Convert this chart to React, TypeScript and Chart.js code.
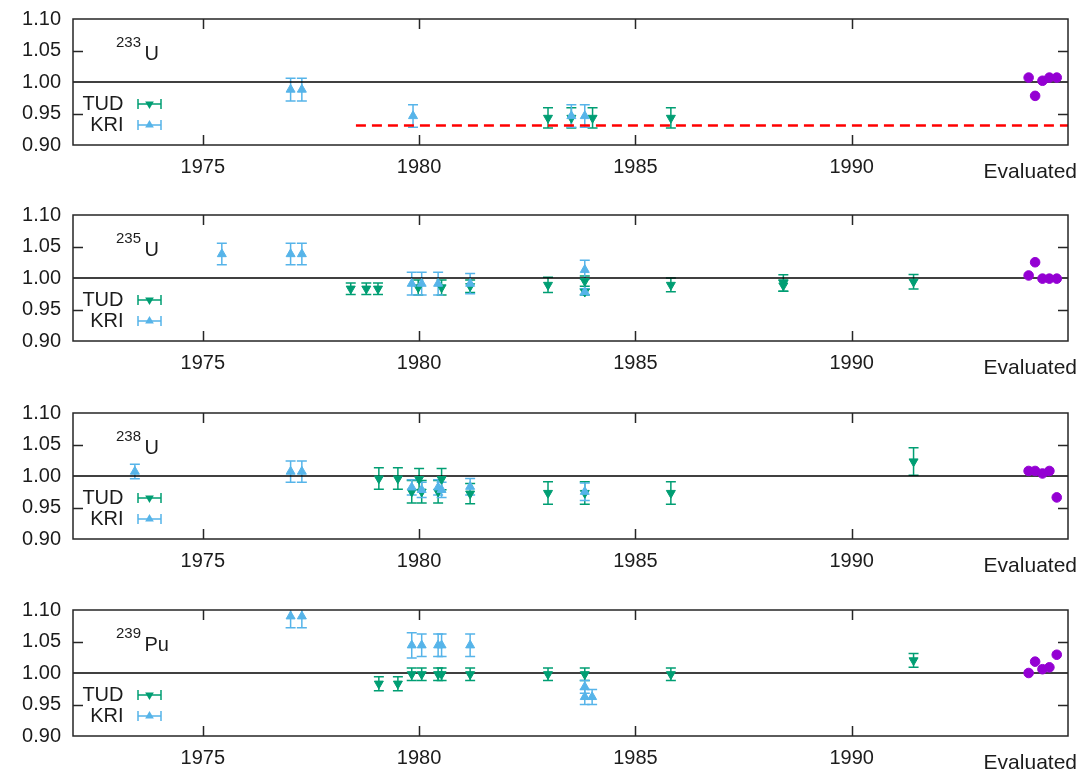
import React, { useEffect, useRef } from 'react';
import { Chart, registerables } from 'chart.js';

Chart.register(...registerables);

// ---- shared axes ----
const xTicks = [1975, 1980, 1985, 1990];
const yTicks = [0.9, 0.95, 1.0, 1.05, 1.1];
const xMin = 1972;
const xMax = 1995;
const evalYears = [1994.09, 1994.24, 1994.41, 1994.57, 1994.74];
const seriesNames = ['TUD', 'KRI'];
const evalLabel = 'Evaluated';

// ---- 233U ----
const u233TudYears = [1982.98, 1983.52, 1984.01, 1985.82];
const u233TudVals = [0.943, 0.943, 0.943, 0.943];
const u233TudErrs = [0.016, 0.016, 0.016, 0.016];
const u233KriYears = [1977.03, 1977.29, 1979.86, 1983.52, 1983.83];
const u233KriVals = [0.988, 0.988, 0.946, 0.946, 0.946];
const u233KriErrs = [0.018, 0.018, 0.018, 0.018, 0.018];
const u233Eval = [1.007, 0.978, 1.002, 1.007, 1.007];
const u233Threshold = 0.931;
const u233ThresholdStart = 1978.54;

// ---- 235U ----
const u235TudYears = [1978.42, 1978.78, 1979.05, 1979.98, 1980.52, 1981.18, 1982.98, 1983.83, 1983.83, 1985.82, 1988.42, 1988.42, 1991.43];
const u235TudVals = [0.983, 0.983, 0.983, 0.985, 0.985, 0.987, 0.989, 0.995, 0.978, 0.989, 0.992, 0.988, 0.994];
const u235TudErrs = [0.009, 0.009, 0.009, 0.012, 0.012, 0.01, 0.012, 0.008, 0.005, 0.011, 0.013, 0.009, 0.0115];
const u235KriYears = [1975.44, 1977.03, 1977.29, 1979.83, 1980.06, 1980.44, 1981.18, 1983.83, 1983.83];
const u235KriVals = [1.038, 1.038, 1.038, 0.991, 0.991, 0.991, 0.991, 1.013, 0.978];
const u235KriErrs = [0.017, 0.017, 0.017, 0.018, 0.018, 0.018, 0.016, 0.015, 0.005];
const u235Eval = [1.004, 1.025, 0.999, 0.999, 0.999];

// ---- 238U ----
const u238TudYears = [1979.07, 1979.51, 1979.83, 1980.0, 1980.06, 1980.44, 1980.52, 1981.18, 1982.98, 1983.83, 1985.82, 1991.43];
const u238TudVals = [0.996, 0.996, 0.975, 0.995, 0.975, 0.975, 0.995, 0.972, 0.973, 0.973, 0.973, 1.023];
const u238TudErrs = [0.017, 0.017, 0.018, 0.017, 0.018, 0.018, 0.017, 0.016, 0.018, 0.018, 0.018, 0.022];
const u238KriYears = [1973.43, 1977.03, 1977.29, 1979.83, 1980.06, 1980.44, 1980.52, 1981.18, 1983.83];
const u238KriVals = [1.007, 1.007, 1.007, 0.982, 0.978, 0.982, 0.978, 0.983, 0.975];
const u238KriErrs = [0.0115, 0.017, 0.017, 0.012, 0.012, 0.012, 0.012, 0.013, 0.014];
const u238Eval = [1.008, 1.008, 1.004, 1.008, 0.966];

// ---- 239Pu ----
const pu239TudYears = [1979.07, 1979.51, 1979.83, 1980.06, 1980.44, 1980.52, 1981.18, 1982.98, 1983.83, 1985.82, 1991.43];
const pu239TudVals = [0.983, 0.983, 0.998, 0.998, 0.998, 0.998, 0.998, 0.998, 0.998, 0.998, 1.02];
const pu239TudErrs = [0.011, 0.011, 0.01, 0.01, 0.01, 0.01, 0.01, 0.01, 0.01, 0.01, 0.011];
const pu239KriYears = [1977.03, 1977.29, 1979.83, 1980.06, 1980.44, 1980.52, 1981.18, 1983.83, 1983.83, 1984.0];
const pu239KriVals = [1.09, 1.09, 1.044, 1.044, 1.044, 1.044, 1.044, 0.978, 0.962, 0.962];
const pu239KriErrs = [0.018, 0.018, 0.02, 0.018, 0.018, 0.018, 0.018, 0.01, 0.012, 0.012];
const pu239Eval = [1.0, 1.018, 1.006, 1.009, 1.029];

const TUD_COLOR = '#009e73';
const KRI_COLOR = '#56b4e9';
const EVAL_COLOR = '#9400d3';
const TEXT_COLOR = '#1c1c1c';
const FONT = '"Liberation Sans", Arial, sans-serif';

const W = 1079;
const H = 196;

function tri(ctx: CanvasRenderingContext2D, x: number, y: number, r: number, rotDeg: number) {
  let rad = (rotDeg * Math.PI) / 180;
  const step = (2 * Math.PI) / 3;
  ctx.beginPath();
  ctx.moveTo(x + Math.sin(rad) * r, y - Math.cos(rad) * r);
  rad += step;
  ctx.lineTo(x + Math.sin(rad) * r, y - Math.cos(rad) * r);
  rad += step;
  ctx.lineTo(x + Math.sin(rad) * r, y - Math.cos(rad) * r);
  ctx.closePath();
  ctx.fill();
}

const decor = {
  id: 'decor',
  beforeDatasetsDraw(chart: any) {
    const { ctx, chartArea: a, scales } = chart;
    const xs = scales.x;
    const ys = scales.y;
    ctx.save();
    ctx.beginPath();
    ctx.rect(a.left, a.top, a.right - a.left, a.bottom - a.top);
    ctx.clip();
    chart.data.datasets.forEach((ds: any) => {
      if (!ds.errors) return;
      ctx.strokeStyle = ds.borderColor;
      ctx.lineWidth = 1.5;
      ds.data.forEach((pt: any, i: number) => {
        const px = xs.getPixelForValue(pt.x);
        const y1 = ys.getPixelForValue(pt.y + ds.errors[i]);
        const y2 = ys.getPixelForValue(pt.y - ds.errors[i]);
        ctx.beginPath();
        ctx.moveTo(px, y1);
        ctx.lineTo(px, y2);
        ctx.moveTo(px - 5, y1);
        ctx.lineTo(px + 5, y1);
        ctx.moveTo(px - 5, y2);
        ctx.lineTo(px + 5, y2);
        ctx.stroke();
      });
    });
    ctx.restore();
  },
  afterDraw(chart: any, _args: any, opts: any) {
    const { ctx, chartArea: a, scales } = chart;
    const xs = scales.x;
    const ys = scales.y;
    ctx.save();
    // frame
    ctx.strokeStyle = '#262626';
    ctx.lineWidth = 1.5;
    ctx.strokeRect(a.left, a.top, a.right - a.left, a.bottom - a.top);
    ctx.beginPath();
    xTicks.forEach((v) => {
      const px = Math.round(xs.getPixelForValue(v)) + 0.5;
      ctx.moveTo(px, a.bottom);
      ctx.lineTo(px, a.bottom - 10);
      ctx.moveTo(px, a.top);
      ctx.lineTo(px, a.top + 10);
    });
    [0.95, 1.05].forEach((v) => {
      const py = Math.round(ys.getPixelForValue(v)) + 0.5;
      ctx.moveTo(a.left, py);
      ctx.lineTo(a.left + 10, py);
      ctx.moveTo(a.right, py);
      ctx.lineTo(a.right - 10, py);
    });
    ctx.stroke();

    // isotope label
    ctx.fillStyle = TEXT_COLOR;
    ctx.textBaseline = 'middle';
    ctx.textAlign = 'left';
    ctx.font = `15px ${FONT}`;
    ctx.fillText(opts.mass, 116, a.top + 24);
    ctx.font = `20px ${FONT}`;
    ctx.fillText(opts.sym, 144.5, a.top + 35);

    // legend
    const rows = [
      { name: seriesNames[0], color: TUD_COLOR, rot: 180, y: a.top + 85 },
      { name: seriesNames[1], color: KRI_COLOR, rot: 0, y: a.top + 106 },
    ];
    rows.forEach((r) => {
      ctx.fillStyle = TEXT_COLOR;
      ctx.textAlign = 'right';
      ctx.font = `20px ${FONT}`;
      ctx.fillText(r.name, 123.5, r.y);
      ctx.strokeStyle = r.color;
      ctx.lineWidth = 1.5;
      ctx.beginPath();
      ctx.moveTo(138, r.y);
      ctx.lineTo(161, r.y);
      ctx.moveTo(138, r.y - 5);
      ctx.lineTo(138, r.y + 5);
      ctx.moveTo(161, r.y - 5);
      ctx.lineTo(161, r.y + 5);
      ctx.stroke();
      ctx.fillStyle = r.color;
      tri(ctx, 149.5, r.y, 5, r.rot);
    });

    // evaluated label
    ctx.fillStyle = TEXT_COLOR;
    ctx.textAlign = 'right';
    ctx.font = `21px ${FONT}`;
    ctx.fillText(evalLabel, 1077, a.bottom + 27);
    ctx.restore();
  },
};

type PanelData = {
  mass: string;
  sym: string;
  tudYears: number[];
  tudVals: number[];
  tudErrs: number[];
  kriYears: number[];
  kriVals: number[];
  kriErrs: number[];
  evalVals: number[];
  threshold?: number;
  thresholdStart?: number;
};

const toPts = (xs: number[], ys: number[]) => xs.map((x, i) => ({ x, y: ys[i] }));

function buildConfig(p: PanelData): any {
  const datasets: any[] = [
    {
      type: 'line',
      data: [
        { x: xMin, y: 1 },
        { x: xMax, y: 1 },
      ],
      borderColor: '#000',
      borderWidth: 1.5,
      pointRadius: 0,
      showLine: true,
      order: 5,
    },
  ];
  if (p.threshold !== undefined) {
    datasets.push({
      type: 'line',
      data: [
        { x: p.thresholdStart, y: p.threshold },
        { x: xMax, y: p.threshold },
      ],
      borderColor: '#ff0000',
      borderWidth: 2.5,
      borderDash: [10, 6],
      pointRadius: 0,
      showLine: true,
      order: 4,
    });
  }
  datasets.push(
    {
      label: seriesNames[0],
      data: toPts(p.tudYears, p.tudVals),
      errors: p.tudErrs,
      borderColor: TUD_COLOR,
      backgroundColor: TUD_COLOR,
      pointStyle: 'triangle',
      rotation: 180,
      pointRadius: 5.2,
      borderWidth: 1,
      order: 3,
    },
    {
      label: seriesNames[1],
      data: toPts(p.kriYears, p.kriVals),
      errors: p.kriErrs,
      borderColor: KRI_COLOR,
      backgroundColor: KRI_COLOR,
      pointStyle: 'triangle',
      pointRadius: 5.2,
      borderWidth: 1,
      order: 2,
    },
    {
      label: evalLabel,
      data: toPts(evalYears, p.evalVals),
      borderColor: EVAL_COLOR,
      backgroundColor: EVAL_COLOR,
      pointStyle: 'circle',
      pointRadius: 4.8,
      borderWidth: 1,
      order: 1,
    }
  );

  return {
    type: 'scatter',
    data: { datasets },
    options: {
      animation: false,
      responsive: false,
      maintainAspectRatio: false,
      layout: { padding: { top: 19, right: 11, left: 0, bottom: 0 } },
      plugins: {
        legend: { display: false },
        tooltip: { enabled: false },
        decor: { mass: p.mass, sym: p.sym },
      },
      scales: {
        x: {
          type: 'linear',
          min: xMin,
          max: xMax,
          grid: { display: false, drawTicks: false },
          border: { display: false },
          afterBuildTicks: (axis: any) => {
            axis.ticks = xTicks.map((v) => ({ value: v }));
          },
          afterFit: (axis: any) => {
            axis.height = 51;
            axis.paddingLeft = 0;
            axis.paddingRight = 0;
          },
          ticks: {
            color: TEXT_COLOR,
            font: { size: 20, family: FONT },
            padding: 10,
            maxRotation: 0,
            callback: (v: number) => String(v),
          },
        },
        y: {
          type: 'linear',
          min: 0.9,
          max: 1.1,
          grid: { display: false, drawTicks: false },
          border: { display: false },
          afterBuildTicks: (axis: any) => {
            axis.ticks = yTicks.map((v) => ({ value: v }));
          },
          afterFit: (axis: any) => {
            axis.width = 73;
            axis.paddingTop = 0;
            axis.paddingBottom = 0;
          },
          ticks: {
            color: TEXT_COLOR,
            font: { size: 20, family: FONT },
            padding: 12,
            callback: (v: number) => Number(v).toFixed(2),
          },
        },
      },
    },
    plugins: [decor],
  };
}

const panels: { top: number; data: PanelData }[] = [
  {
    top: 0,
    data: {
      mass: '233', sym: 'U',
      tudYears: u233TudYears, tudVals: u233TudVals, tudErrs: u233TudErrs,
      kriYears: u233KriYears, kriVals: u233KriVals, kriErrs: u233KriErrs,
      evalVals: u233Eval, threshold: u233Threshold, thresholdStart: u233ThresholdStart,
    },
  },
  {
    top: 196,
    data: {
      mass: '235', sym: 'U',
      tudYears: u235TudYears, tudVals: u235TudVals, tudErrs: u235TudErrs,
      kriYears: u235KriYears, kriVals: u235KriVals, kriErrs: u235KriErrs,
      evalVals: u235Eval,
    },
  },
  {
    top: 394,
    data: {
      mass: '238', sym: 'U',
      tudYears: u238TudYears, tudVals: u238TudVals, tudErrs: u238TudErrs,
      kriYears: u238KriYears, kriVals: u238KriVals, kriErrs: u238KriErrs,
      evalVals: u238Eval,
    },
  },
  {
    top: 591,
    data: {
      mass: '239', sym: 'Pu',
      tudYears: pu239TudYears, tudVals: pu239TudVals, tudErrs: pu239TudErrs,
      kriYears: pu239KriYears, kriVals: pu239KriVals, kriErrs: pu239KriErrs,
      evalVals: pu239Eval,
    },
  },
];

function Panel({ top, data }: { top: number; data: PanelData }) {
  const ref = useRef<HTMLCanvasElement>(null);
  useEffect(() => {
    const chart = new Chart(ref.current as HTMLCanvasElement, buildConfig(data));
    return () => chart.destroy();
  }, []);
  return (
    <canvas
      ref={ref}
      width={W}
      height={H}
      style={{ position: 'absolute', left: 0, top, width: W, height: H }}
    />
  );
}

export default function App() {
  return (
    <div
      style={{
        position: 'absolute',
        left: 0,
        top: 0,
        width: 1079,
        height: 770,
        overflow: 'hidden',
        background: '#fff',
      }}
    >
      {panels.map((p, i) => (
        <Panel key={i} top={p.top} data={p.data} />
      ))}
    </div>
  );
}
